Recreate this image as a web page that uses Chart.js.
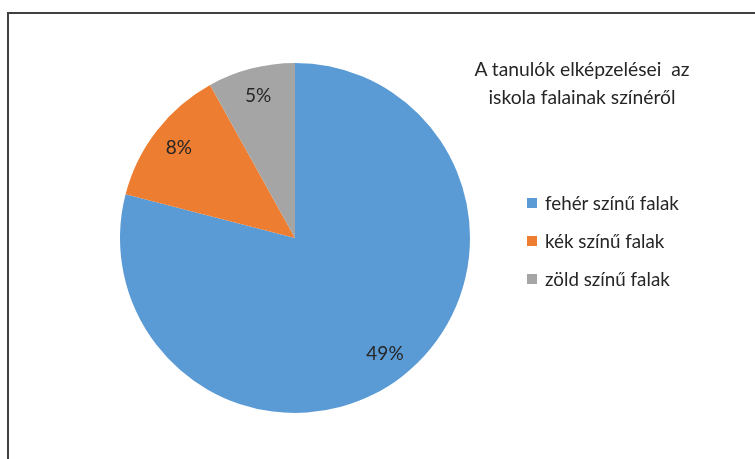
<!DOCTYPE html>
<html>
<head>
<meta charset="utf-8">
<script src="https://cdn.jsdelivr.net/npm/chart.js@4"></script>
<style>
  html, body { margin: 0; padding: 0; background: #fff; }
  #wrap { position: relative; width: 755px; height: 459px; overflow: hidden; font-family: Lato, 'Open Sans', sans-serif; color: #262626; }
  #frame { position: absolute; left: 7px; top: 12px; width: 800px; height: 500px; border-left: 2px solid #404040; border-top: 2px solid #404040; }
  #myChart { position: absolute; left: 0; top: 0; }
  #title { position: absolute; left: 452px; width: 260px; top: 55px; text-align: center; font-size: 19.3px; line-height: 28px; white-space: pre; }
  #legend { position: absolute; left: 527px; top: 190px; font-size: 18.8px; }
  .row { height: 38px; line-height: 26px; display: flex; align-items: center; }
  .box { width: 10px; height: 10px; margin-right: 8px; margin-top: -12px; }
  .row span.txt { margin-top: -12px; }
</style>
</head>
<body>
<div id="wrap">
  <div id="frame"></div>
  <canvas id="myChart" width="755" height="459"></canvas>
  <div id="title"></div>
  <div id="legend"></div>
</div>
<script>
const titleLines = ['A tanulók elképzelései  az', 'iskola falainak színéről'];
const categories = ['fehér színű falak', 'kék színű falak', 'zöld színű falak'];
const values = [49, 8, 5];
const colors = ['#5B9BD5', '#ED7D31', '#A5A5A5'];

document.getElementById('title').textContent = titleLines.join('\n');

const legend = document.getElementById('legend');
categories.forEach((name, i) => {
    const row = document.createElement('div');
    row.className = 'row';
    row.innerHTML = `<div class="box" style="background:${colors[i]}"></div><span class="txt">${name}</span>`;
    legend.appendChild(row);
});

const sliceLabels = {
    id: 'sliceLabels',
    afterDatasetsDraw(chart) {
        const ctx = chart.ctx;
        const meta = chart.getDatasetMeta(0);
        ctx.save();
        ctx.font = '19px Lato, "Open Sans", sans-serif';
        ctx.fillStyle = '#262626';
        ctx.textAlign = 'center';
        ctx.textBaseline = 'middle';
        meta.data.forEach((arc, i) => {
            const p = arc.getProps(['x', 'y', 'startAngle', 'endAngle', 'outerRadius'], true);
            const mid = (p.startAngle + p.endAngle) / 2;
            const r = p.outerRadius * 0.84;
            ctx.fillText(values[i] + '%', p.x + Math.cos(mid) * r, p.y + Math.sin(mid) * r);
        });
        ctx.restore();
    }
};

const ctx = document.getElementById('myChart').getContext('2d');
new Chart(ctx, {
    type: 'pie',
    data: {
        labels: categories,
        datasets: [{
            data: values,
            backgroundColor: colors,
            borderWidth: 0,
        }],
    },
    options: {
        responsive: false,
        animation: false,
        layout: {
            padding: { left: 120, right: 285, top: 63, bottom: 46 },
        },
        plugins: {
            legend: { display: false },
            tooltip: { enabled: false },
        },
    },
    plugins: [sliceLabels],
});
</script>
</body>
</html>
